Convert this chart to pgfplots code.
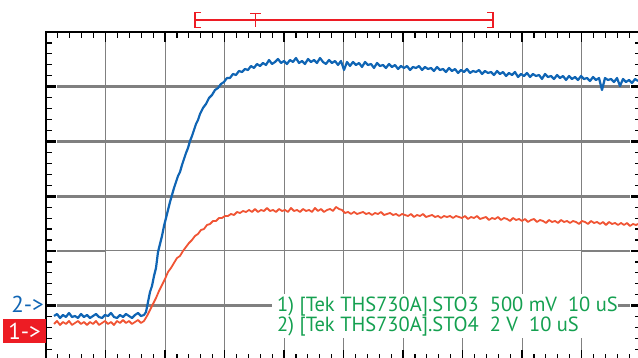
\documentclass[border=0pt]{standalone}
\usepackage{pgfplots}
\pgfplotsset{compat=1.18}
\usepackage{fontspec}
\setmainfont{PT Sans}
\definecolor{trblue}{RGB}{16,101,180}
\definecolor{trred}{RGB}{240,84,52}
\definecolor{mkred}{RGB}{237,28,36}
\definecolor{txgreen}{RGB}{20,160,80}
\definecolor{grd}{RGB}{128,128,128}

\pgfplotstableread{
x y
54 316
57 314
60 318
63 315
66 317
69 313
72 317
75 316
78 318
81 314
84 317
87 315
90 318
93 316
96 314
99 317
102 318
105 315
108 316
111 313
114 317
117 318
120 315
123 317
126 314
129 316
132 318
135 315
138 313
141 316
144 315
146 312
148 302
150 292
152 286
154 276
156 268
158 252
160 244
162 236
164 226
166 218
168 210
170 202
172 195
174 188
176 182
178 176
180 172
182 165
184 159
186 153
188 148
190 141
192 136
194 130
196 124
198 120
200 114
203 108
206 104
209 98
212 95
215 90
218 88
221 84
224 82
227 78
230 78
233 74
236 75
239 71
242 72
245 69
248 70
251 66
254 68
257 64
260 66
263 63
266 65
269 60
272 64
275 62
278 59
281 63
284 61
287 64
290 60
293 62
296 58
299 63
302 61
305 64
308 59
311 62
314 60
317 63
320 58
323 62
326 64
329 60
332 63
335 61
338 65
341 61
344 70
347 62
350 66
353 62
356 65
359 63
362 67
365 62
368 65
371 64
374 68
377 63
380 66
383 65
386 68
389 64
392 67
395 65
398 69
401 66
404 68
407 66
410 70
413 67
416 68
419 66
422 70
425 67
428 69
431 68
434 71
437 67
440 70
443 69
446 72
449 68
452 71
455 69
458 73
461 70
464 72
467 69
470 73
473 71
476 72
479 70
482 74
485 71
488 73
491 72
494 75
497 71
500 74
503 72
506 76
509 73
512 75
515 72
518 77
521 74
524 76
527 73
530 77
533 74
536 76
539 75
542 79
545 74
548 77
551 76
554 79
557 75
560 78
563 76
566 80
569 76
572 79
575 77
578 80
581 76
584 79
587 78
590 81
593 77
596 80
599 78
602 90
605 78
608 80
611 79
614 82
617 78
620 86
623 79
626 82
629 80
632 83
635 79
638 81
}\chtwo

\pgfplotstableread{
x y
54 324
57 321
60 325
63 322
66 324
69 321
72 325
75 323
78 321
81 324
84 322
87 325
90 322
93 324
96 321
99 325
102 323
105 321
108 324
111 322
114 325
117 321
120 323
123 320
126 323
129 321
132 324
135 322
138 320
141 323
144 321
147 316
150 310
153 304
156 298
159 291
162 285
165 279
168 272
171 268
174 263
177 258
180 256
183 251
186 247
189 243
192 240
195 236
198 234
201 230
204 229
207 225
210 224
213 221
216 221
219 218
222 218
225 216
228 216
231 214
234 215
237 212
240 213
243 211
246 212
249 210
252 212
255 209
258 212
261 210
264 211
267 208
270 211
273 210
276 212
279 209
282 211
285 210
288 212
291 208
294 211
297 210
300 212
303 209
306 211
309 210
312 212
315 208
318 211
321 209
324 212
327 210
330 209
333 211
336 207
339 209
342 210
345 213
348 212
351 214
354 212
357 214
360 213
363 212
366 214
369 213
372 215
375 213
378 214
381 212
384 215
387 214
390 213
393 215
396 214
399 216
402 214
405 215
408 216
411 214
414 217
417 215
420 216
423 214
426 217
429 216
432 215
435 217
438 216
441 218
444 216
447 217
450 216
453 218
456 216
459 217
462 218
465 216
468 219
471 217
474 218
477 216
480 219
483 218
486 217
489 220
492 218
495 219
498 217
501 220
504 218
507 219
510 221
513 218
516 220
519 219
522 221
525 219
528 222
531 220
534 219
537 222
540 220
543 221
546 223
549 220
552 222
555 221
558 223
561 220
564 222
567 221
570 223
573 221
576 222
579 224
582 221
585 222
588 224
591 221
594 223
597 222
600 224
603 222
606 225
609 222
612 224
615 223
618 225
621 223
624 225
627 223
630 226
633 224
636 225
638 224
}\chone

\begin{document}
\begin{tikzpicture}
\useasboundingbox (0,0) rectangle (638pt,358pt);
\clip (0,0) rectangle (638pt,358pt);
\begin{axis}[
  at={(46pt,-2.5pt)}, anchor=south west,
  scale only axis, width=595pt, height=328.5pt,
  xmin=46, xmax=641, ymin=32, ymax=360.5, y dir=reverse,
  clip=false,
  axis line style={black, line width=1.3pt},
  xtick={46,105.5,165,224.5,284,343.5,403,462.5,522,581.5,641},
  minor x tick num=4,
  ytick={32,86.75,141.5,196.25,251,305.75,360.5},
  minor ytick={42.95,53.9,64.85,75.8,97.7,108.65,119.6,130.55,152.45,163.4,174.35,185.3,207.2,218.15,229.1,240.05,261.95,272.9,283.85,294.8,316.7,327.65,338.6,349.55},
  xticklabels={}, yticklabels={},
  tick align=inside,
  major tick length=10pt, minor tick length=6pt,
  tick style={black, line width=1.2pt},
  every major y tick/.append style={line width=2.6pt},
  xmajorgrids, major grid style={grd, line width=1pt},
]
% horizontal graticule
\draw[grd, line width=2.6pt] (axis cs:57,86.75) -- (axis cs:630,86.75);
\draw[grd, line width=2.6pt] (axis cs:57,141.5) -- (axis cs:630,141.5);
\draw[grd, line width=2.6pt] (axis cs:57,196.25) -- (axis cs:630,196.25);
\draw[grd, line width=1pt] (axis cs:105.5,251) -- (axis cs:582,251);
\draw[grd, line width=2.6pt] (axis cs:57,251) -- (axis cs:105.5,251);
\draw[grd, line width=2.6pt] (axis cs:582,251) -- (axis cs:630,251);
\draw[grd, line width=2.6pt] (axis cs:57,305.75) -- (axis cs:630,305.75);

\addplot[trred, line width=1.8pt, line join=round] table[x=x,y=y] {\chone};
\addplot[trblue, line width=2.2pt, line join=round] table[x=x,y=y] {\chtwo};

% text block
\node[anchor=north west, fill=white, inner sep=0pt, minimum width=338pt, minimum height=44pt, text=txgreen, align=left, font=\fontsize{20.5}{20}\selectfont]
  at (axis cs:272,294) {\hspace{5pt}1) [Tek THS730A].STO3~ 500 mV~ 10 uS\\\hspace{5pt}2) [Tek THS730A].STO4~ 2 V~ 10 uS};

% channel markers
\node[text=trblue, font=\fontsize{23}{23}\selectfont, anchor=east, inner sep=0pt] at (axis cs:44,304) {2->};
\node[fill=mkred, text=white, font=\fontsize{23}{23}\selectfont, minimum width=43pt, minimum height=24pt, inner sep=0pt] at (axis cs:24.5,331) {1->};

% trigger / record marker
\draw[mkred, line width=1.5pt] (axis cs:195,20) -- (axis cs:493,20);
\draw[mkred, line width=1.5pt] (axis cs:201,12.5) -- (axis cs:195,12.5) -- (axis cs:195,27.5) -- (axis cs:201,27.5);
\draw[mkred, line width=1.5pt] (axis cs:487,12.5) -- (axis cs:493,12.5) -- (axis cs:493,27.5) -- (axis cs:487,27.5);
\draw[mkred, line width=1.5pt] (axis cs:250,13.5) -- (axis cs:261,13.5);
\draw[mkred, line width=1.5pt] (axis cs:255.5,13.5) -- (axis cs:255.5,27);
\end{axis}
\end{tikzpicture}
\end{document}
